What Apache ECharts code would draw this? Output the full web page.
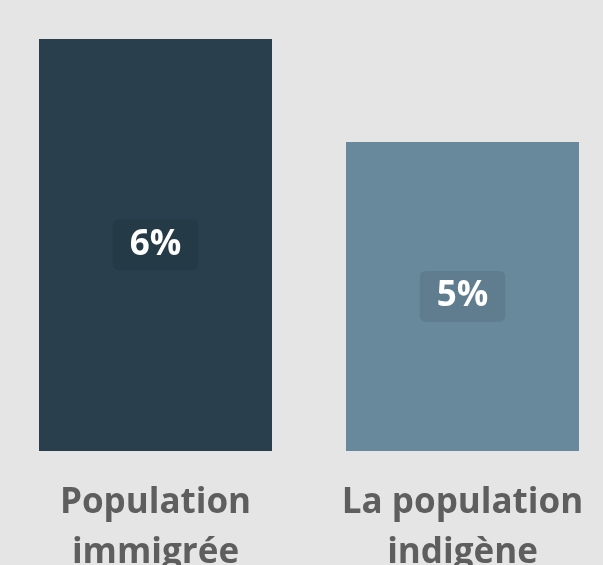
<!DOCTYPE html>
<html><head><meta charset="utf-8">
<script src="https://cdn.jsdelivr.net/npm/echarts@6/dist/echarts.min.js"></script>
<style>html,body{margin:0;padding:0;background:#e5e5e5;}#c{width:603px;height:565px;}</style>
</head><body><div id="c"></div>
<script>
var categories = ["Population\nimmigrée", "La population\nindigène"];
var values = [6, 4.5];
var labels = ["6%", "5%"];
var colors = ["#293f4e", "#68889c"];

var chart = echarts.init(document.getElementById('c'));
chart.setOption({
  backgroundColor: '#e5e5e5',
  animation: false,
  grid: {left: 2, top: 39, right: -13, bottom: 114, containLabel: false, outerBoundsMode: 'none'},
  xAxis: {
    type: 'category', data: categories,
    axisLine: {show: false}, axisTick: {show: false},
    axisLabel: {
      interval: 0, margin: 27, color: '#5e5e5e',
      fontFamily: 'Open Sans', fontWeight: 'bold', fontSize: 35, lineHeight: 50
    }
  },
  yAxis: {type: 'value', min: 0, max: 6, show: false, splitLine: {show: false}},
  series: [{
    type: 'bar', barWidth: 233,
    data: values.map(function (v, i) {
      return {value: v, itemStyle: {color: colors[i]}};
    }),
    label: {
      show: true, position: 'inside',
      formatter: function (p) { return labels[p.dataIndex]; },
      color: '#ffffff', fontFamily: 'Open Sans', fontWeight: 'bold', fontSize: 35,
      backgroundColor: 'rgba(0,0,0,0.08)', borderRadius: 6, padding: [9, 17, 7, 17]
    }
  }]
});
</script></body></html>
